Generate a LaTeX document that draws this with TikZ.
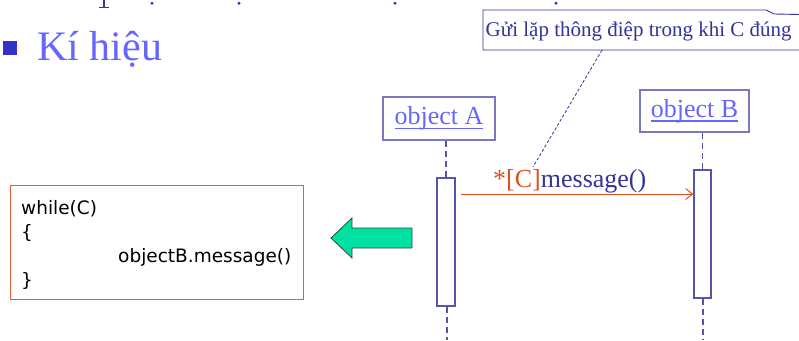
\documentclass[tikz,border=0pt]{standalone}
\usepackage{fontspec}
\setmainfont{Liberation Serif}
\newfontfamily\codefont{DejaVu Sans}
\usetikzlibrary{arrows.meta}
\definecolor{titleblue}{RGB}{102,102,255}
\definecolor{bulletblue}{RGB}{51,51,204}
\definecolor{navyish}{RGB}{51,51,153}
\definecolor{boxblue}{RGB}{120,120,195}
\definecolor{lifeblue}{RGB}{85,85,170}
\definecolor{msgred}{RGB}{221,80,30}
\definecolor{codeorange}{RGB}{225,95,50}
\definecolor{arrowgreen}{RGB}{0,224,160}
\newcommand{\objul}[1]{{\setbox0\hbox{#1}\rlap{\rule[-4.5pt]{\wd0}{1.6pt}}\box0}}
\begin{document}
\begin{tikzpicture}[x=1pt,y=-1pt,
  objbox/.style={draw=boxblue, line width=1.3pt, fill=white, inner sep=0pt,
    text=titleblue, font=\fontsize{26}{30}\selectfont},
  actbox/.style={draw=lifeblue, line width=1.2pt, fill=white, inner sep=0pt},
  lifeline/.style={draw=lifeblue, line width=1.2pt, dash pattern=on 6pt off 4pt},
  msgline/.style={draw=msgred, line width=1pt, -{Straight Barb[length=7pt,width=11pt]}},
  codeline/.style={anchor=base west, inner sep=0pt, font=\codefont\fontsize{18.5}{22}\selectfont},
  notestyle/.style={draw=navyish, line width=0.9pt},
  dotmark/.style={fill=navyish, draw=none}
]
\useasboundingbox (0,0) rectangle (799,340);

% cut-off fragments of the line above
\fill[navyish] (102.5,0) rectangle (105,7);
\fill[navyish] (99,6.5) rectangle (108.5,8);
\foreach \px in {152,239,395,556} \fill[dotmark] (\px,3.2) circle (1.6);

% bullet and heading
\fill[bulletblue] (3,41) rectangle (17,55);
\node[anchor=base west, inner sep=0pt, text=titleblue, font=\fontsize{42}{48}\selectfont] (heading) at (37,60) {Kí hiệu};

% note
\draw[notestyle] (800,50) -- (483,50) -- (483,10) -- (766,10) -- (774,14) -- (800,14.5);
\node[anchor=base west, inner sep=0pt, text=navyish, font=\fontsize{21}{24}\selectfont] (notetext) at (485.5,36) {Gửi lặp thông điệp trong khi C đúng};
\coordinate (notefoot) at (602,50);

% objects
\node[objbox, minimum width=112pt, minimum height=43pt] (objA) at (439,118.5) {\objul{object A}};
\node[objbox, minimum width=109pt, minimum height=42pt] (objB) at (694.5,111) {\objul{object B}};

% activations
\node[actbox, minimum width=18pt, minimum height=128pt] (actA) at (446,242) {};
\node[actbox, minimum width=17pt, minimum height=128pt] (actB) at (702.5,234) {};

% lifelines
\draw[lifeline] (objA.south -| actA.north) -- (actA.north);
\draw[lifeline] (objB.south -| actB.north) -- (actB.north);
\coordinate (endA) at (447,340);
\coordinate (endB) at (703,340);
\draw[lifeline] (actA.south -| endA) -- (endA);
\draw[lifeline] (actB.south -| endB) -- (endB);

% message
\coordinate (msgstart) at (461,194);
\draw[msgline] (msgstart) -- (msgstart -| actB.west);
\node[anchor=base west, inner sep=0pt, font=\fontsize{26}{30}\selectfont] (msglabel) at (493,187)
  {\textcolor{msgred}{*[C]}\textcolor{navyish}{message()}};
\coordinate (cmark) at (533,167);
\draw[navyish, line width=0.8pt, dash pattern=on 3pt off 2pt] (notefoot) -- (cmark);

% green arrow
\filldraw[fill=arrowgreen, draw=black!75, line width=0.8pt]
  (331,238) -- (352,218) -- (352,228) -- (412,228) -- (412,248) -- (352,248) -- (352,258) -- cycle;

% code box
\node[draw=codeorange, line width=1pt, minimum width=293pt, minimum height=114pt, inner sep=0pt] (codebox) at (156.5,242) {};
\node[codeline] (c1) at (21,214) {while(C)};
\node[codeline] (c2) at (21,238) {\{};
\node[codeline] (c3) at (118,262) {objectB.message()};
\node[codeline] (c4) at (21,286) {\}};
\end{tikzpicture}
\end{document}
